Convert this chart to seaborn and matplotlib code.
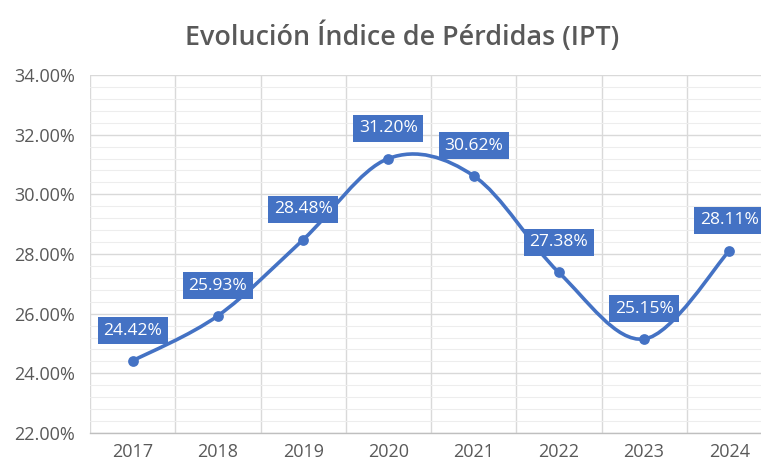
import matplotlib
matplotlib.use('Agg')
import matplotlib.pyplot as plt
import matplotlib.ticker as mticker
from matplotlib.path import Path
from matplotlib.patches import PathPatch
import seaborn as sns
import pandas as pd

# Data
years = ['2017', '2018', '2019', '2020', '2021', '2022', '2023', '2024']
ipt = [24.42, 25.93, 28.48, 31.20, 30.62, 27.38, 25.15, 28.11]

BLUE = '#4472C4'
GREY = '#595959'

sns.set_theme(style='white')
plt.rcParams['font.family'] = ['Open Sans', 'DejaVu Sans']

df = pd.DataFrame({'Year': years, 'IPT': ipt})
df['pos'] = range(len(df))

fig = plt.figure(figsize=(7.61, 4.70), dpi=100)
ax = fig.add_axes([90 / 761, 37 / 470, 682 / 761, 358 / 470])

# Smoothed line (Excel-style Bezier through the points)
xs = list(df['pos'])
ys = list(df['IPT'])
n = len(xs)
verts = [(xs[0], ys[0])]
codes = [Path.MOVETO]
for i in range(n - 1):
    p0 = (xs[max(i - 1, 0)], ys[max(i - 1, 0)])
    p1 = (xs[i], ys[i])
    p2 = (xs[i + 1], ys[i + 1])
    p3 = (xs[min(i + 2, n - 1)], ys[min(i + 2, n - 1)])
    c1 = (p1[0] + (p2[0] - p0[0]) / 6, p1[1] + (p2[1] - p0[1]) / 6)
    c2 = (p2[0] - (p3[0] - p1[0]) / 6, p2[1] - (p3[1] - p1[1]) / 6)
    verts += [c1, c2, p2]
    codes += [Path.CURVE4] * 3
ax.add_patch(PathPatch(Path(verts, codes), facecolor='none',
                       edgecolor=BLUE, lw=2.6, capstyle='round', zorder=3))

sns.scatterplot(data=df, x='pos', y='IPT', ax=ax, color=BLUE, s=60,
                edgecolor=BLUE, linewidth=0, zorder=4, legend=False)

# Data labels
for x, y in zip(xs, ys):
    ax.annotate(f'{y:.2f}%', xy=(x, y), xytext=(0, 16),
                textcoords='offset points', ha='center', va='bottom',
                color='white', fontsize=12.5, fontweight='medium', zorder=5,
                bbox=dict(boxstyle='square,pad=0.32', fc=BLUE, ec='none'))

ax.set_xlim(-0.5, len(years) - 0.5)
ax.set_ylim(22, 34)
ax.set_xticks(range(len(years)))
ax.set_xticklabels(years)
ax.yaxis.set_major_locator(mticker.MultipleLocator(2))
ax.yaxis.set_minor_locator(mticker.MultipleLocator(0.4))
ax.yaxis.set_major_formatter(mticker.FuncFormatter(lambda v, _: f'{v:.2f}%'))
ax.xaxis.set_minor_locator(mticker.FixedLocator([i - 0.5 for i in range(len(years) + 1)]))

ax.grid(which='major', axis='y', color='#D9D9D9', lw=1)
ax.grid(which='minor', axis='y', color='#EDEDED', lw=0.8)
ax.grid(which='minor', axis='x', color='#D9D9D9', lw=1)
ax.grid(which='major', axis='x', visible=False)
ax.set_axisbelow(True)

for side in ['top', 'right', 'left']:
    ax.spines[side].set_visible(False)
ax.spines['bottom'].set_color('#BFBFBF')
ax.spines['bottom'].set_linewidth(1)

ax.tick_params(axis='both', which='both', length=0, colors=GREY, labelsize=13)
ax.tick_params(axis='y', pad=11)
ax.tick_params(axis='x', pad=7)
ax.set_xlabel('')
ax.set_ylabel('')

fig.text(402 / 761, 1 - 37 / 470, 'Evolución Índice de Pérdidas (IPT)',
         ha='center', va='center', fontsize=19.4, fontweight='semibold', color=GREY)

fig.savefig('out.png', dpi=100)
